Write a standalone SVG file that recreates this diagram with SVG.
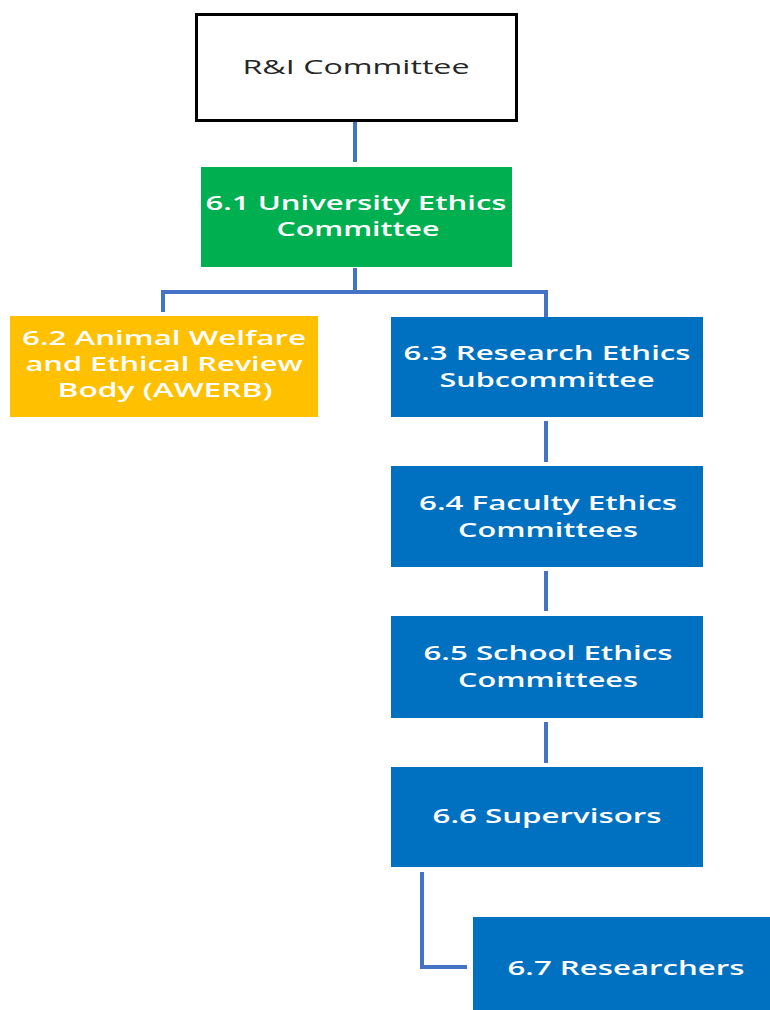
<svg xmlns="http://www.w3.org/2000/svg" width="770" height="1010" viewBox="0 0 770 1010">
<style>
.t{font-family:"Open Sans","Noto Sans","DejaVu Sans",sans-serif;font-size:20px;font-weight:600;fill:#ffffff;text-anchor:middle}
.k{font-family:"Open Sans","Noto Sans","DejaVu Sans",sans-serif;font-size:20px;font-weight:400;fill:#262626;text-anchor:middle}
.c{fill:none;stroke:#4472C4;stroke-width:4}
.blue{fill:#0070C0}
</style>
<rect width="770" height="1010" fill="#ffffff"/>
<g id="connectors">
<line class="c" x1="355" y1="122" x2="355" y2="162"/>
<line class="c" x1="355" y1="268" x2="355" y2="292"/>
<polyline class="c" points="163,312 163,292 546,292 546,317"/>
<line class="c" x1="546" y1="421" x2="546" y2="462"/>
<line class="c" x1="546" y1="571" x2="546" y2="611"/>
<line class="c" x1="546" y1="722" x2="546" y2="763"/>
<polyline class="c" points="422,872 422,967 467,967"/>
</g>
<g id="ri">
<rect x="196.5" y="14.5" width="320" height="106" fill="#ffffff" stroke="#000000" stroke-width="3"/>
<text class="k" x="356" y="74" textLength="227" lengthAdjust="spacingAndGlyphs">R&amp;I Committee</text>
</g>
<g id="n61">
<rect x="201" y="167" width="311" height="100" fill="#00B050"/>
<text class="t" x="356" y="210" textLength="301" lengthAdjust="spacingAndGlyphs">6.1 University Ethics</text>
<text class="t" x="358" y="236" textLength="163" lengthAdjust="spacingAndGlyphs">Committee</text>
</g>
<g id="n62">
<rect x="10" y="316" width="308" height="101" fill="#FFC000"/>
<text class="t" x="164" y="345" textLength="284" lengthAdjust="spacingAndGlyphs">6.2 Animal Welfare</text>
<text class="t" x="164" y="371" textLength="277" lengthAdjust="spacingAndGlyphs">and Ethical Review</text>
<text class="t" x="165" y="397" textLength="215" lengthAdjust="spacingAndGlyphs">Body (AWERB)</text>
</g>
<g id="n63">
<rect class="blue" x="391" y="317" width="312" height="100"/>
<text class="t" x="547" y="360" textLength="287" lengthAdjust="spacingAndGlyphs">6.3 Research Ethics</text>
<text class="t" x="547" y="387" textLength="215" lengthAdjust="spacingAndGlyphs">Subcommittee</text>
</g>
<g id="n64">
<rect class="blue" x="391" y="466" width="312" height="101"/>
<text class="t" x="548" y="510" textLength="258" lengthAdjust="spacingAndGlyphs">6.4 Faculty Ethics</text>
<text class="t" x="548" y="537" textLength="180" lengthAdjust="spacingAndGlyphs">Committees</text>
</g>
<g id="n65">
<rect class="blue" x="391" y="616" width="312" height="102"/>
<text class="t" x="548" y="660" textLength="249" lengthAdjust="spacingAndGlyphs">6.5 School Ethics</text>
<text class="t" x="548" y="687" textLength="180" lengthAdjust="spacingAndGlyphs">Committees</text>
</g>
<g id="n66">
<rect class="blue" x="391" y="767" width="312" height="100"/>
<text class="t" x="547" y="823" textLength="229" lengthAdjust="spacingAndGlyphs">6.6 Supervisors</text>
</g>
<g id="n67">
<rect class="blue" x="473" y="917" width="300" height="96"/>
<text class="t" x="626" y="975" textLength="237" lengthAdjust="spacingAndGlyphs">6.7 Researchers</text>
</g>
</svg>
